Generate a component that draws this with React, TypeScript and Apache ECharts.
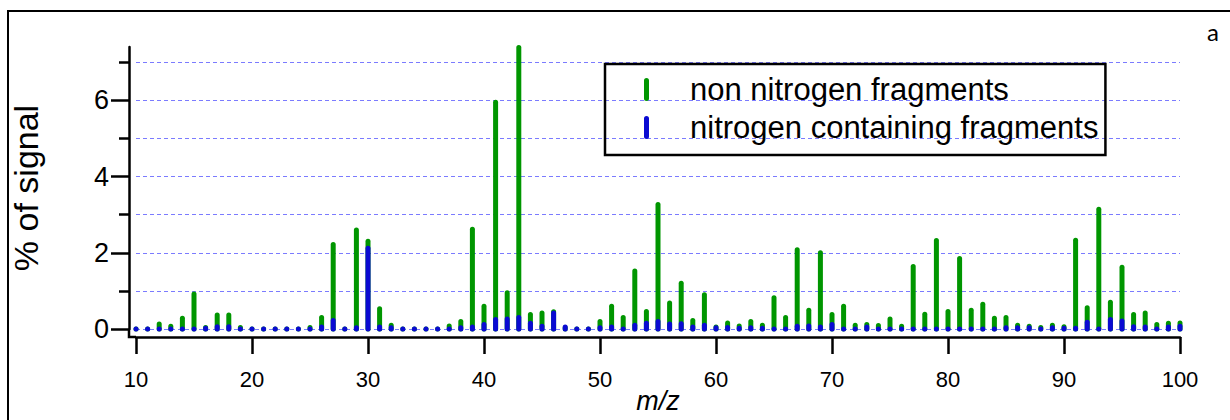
import React, { useEffect, useRef } from "react";
import * as echarts from "echarts";

const massToCharge = [
  10, 11, 12, 13, 14, 15, 16, 17, 18, 19,
  20, 21, 22, 23, 24, 25, 26, 27, 28, 29,
  30, 31, 32, 33, 34, 35, 36, 37, 38, 39,
  40, 41, 42, 43, 44, 45, 46, 47, 48, 49,
  50, 51, 52, 53, 54, 55, 56, 57, 58, 59,
  60, 61, 62, 63, 64, 65, 66, 67, 68, 69,
  70, 71, 72, 73, 74, 75, 76, 77, 78, 79,
  80, 81, 82, 83, 84, 85, 86, 87, 88, 89,
  90, 91, 92, 93, 94, 95, 96, 97, 98, 99,
  100,
];

const nonNitrogen = [
  0, 0, 0.13, 0.07, 0.28, 0.92, 0.04, 0.37, 0.37, 0.04,
  0, 0, 0, 0, 0, 0.04, 0.3, 2.22, 0, 2.6,
  2.3, 0.53, 0.1, 0, 0, 0, 0, 0.08, 0.2, 2.62,
  0.6, 5.95, 0.95, 7.39, 0.38, 0.42, 0.45, 0.03, 0, 0,
  0.2, 0.6, 0.3, 1.52, 0.46, 3.27, 0.68, 1.2, 0.22, 0.9,
  0.05, 0.16, 0.08, 0.2, 0.1, 0.82, 0.3, 2.08, 0.49, 2.0,
  0.38, 0.6, 0.1, 0.12, 0.09, 0.26, 0.07, 1.64, 0.39, 2.32,
  0.46, 1.85, 0.49, 0.65, 0.28, 0.3, 0.1, 0.07, 0.04, 0.1,
  0.06, 2.33, 0.56, 3.14, 0.7, 1.62, 0.38, 0.42, 0.12, 0.15,
  0.16,
];

const nitrogenContaining = [
  0, 0, 0, 0, 0, 0, 0.02, 0.06, 0.06, 0,
  0, 0, 0, 0, 0, 0, 0.05, 0.22, 0, 0.03,
  2.12, 0.05, 0.03, 0, 0, 0, 0, 0, 0.03, 0.05,
  0.12, 0.25, 0.26, 0.3, 0.15, 0.07, 0.42, 0.05, 0, 0,
  0.03, 0.05, 0, 0.1, 0.15, 0.2, 0.13, 0.14, 0.05, 0.1,
  0.03, 0.04, 0.02, 0.03, 0.02, 0, 0, 0.07, 0.08, 0.05,
  0.12, 0, 0, 0.05, 0, 0, 0, 0, 0, 0,
  0, 0, 0, 0, 0, 0.03, 0.03, 0.03, 0, 0.03,
  0.02, 0.02, 0.18, 0, 0.25, 0.21, 0.06, 0.05, 0, 0.05,
  0.07,
];

const yMajorTicks = [0, 2, 4, 6];
const seriesNames = ["non nitrogen fragments", "nitrogen containing fragments"];
const seriesColors = ["#009600", "#0a0ad2"];
const yAxisTitle = "% of signal";
const xAxisTitle = "m/z";
const panelLetter = "a";

const pillIcon =
  "path://M2.5,0 A2.5,2.5 0 0 1 5,2.5 L5,20.5 A2.5,2.5 0 0 1 0,20.5 L0,2.5 A2.5,2.5 0 0 1 2.5,0 Z";

export default function App() {
  const ref = useRef<HTMLDivElement>(null);

  useEffect(() => {
    const chart = echarts.init(ref.current!, null, { renderer: "svg" });

    const stem = (color: string) => (params: any, api: any) => {
      const x = api.value(0);
      const y = api.value(1);
      const a = api.coord([x, 0]);
      const b = api.coord([x, y]);
      return {
        type: "line",
        shape: { x1: a[0], y1: a[1], x2: b[0], y2: b[1] + 0.001 },
        style: { stroke: color, lineWidth: 5, lineCap: "round" },
      };
    };

    const font = "Liberation Sans, Arial, sans-serif";
    const axisColor = "#000";
    const gridDash = { color: "#7b7bff", width: 1, type: [4, 3] };

    chart.setOption({
      animation: false,
      backgroundColor: "#fff",
      grid: { left: 136, right: 50, top: 47, bottom: 91, outerBoundsMode: "none", containLabel: false },
      xAxis: {
        type: "value",
        min: 10,
        max: 100,
        interval: 10,
        offset: 8,
        name: xAxisTitle,
        nameLocation: "middle",
        nameGap: 50,
        nameMoveOverlap: false,
        nameTextStyle: { fontSize: 27, lineHeight: 28, fontStyle: "italic", color: "#000", fontFamily: font },
        axisLine: { show: true, onZero: false, lineStyle: { color: axisColor, width: 2.5 } },
        axisTick: { show: true, length: 17, lineStyle: { color: axisColor, width: 2.5 } },
        axisLabel: { margin: 31, fontSize: 22, color: "#000", fontFamily: font },
        splitLine: { show: false },
      },
      yAxis: {
        type: "value",
        min: 0,
        max: 7.4,
        interval: 2,
        offset: 7,
        name: yAxisTitle,
        nameLocation: "middle",
        nameGap: 86,
        nameMoveOverlap: false,
        nameTextStyle: { fontSize: 34, color: "#000", fontFamily: font },
        axisLine: { show: true, lineStyle: { color: axisColor, width: 2.5 } },
        axisTick: { show: true, length: 18, customValues: yMajorTicks, lineStyle: { color: axisColor, width: 2.5 } },
        minorTick: { show: true, splitNumber: 2, length: 10, lineStyle: { color: axisColor, width: 2.5 } },
        axisLabel: { margin: 20, fontSize: 27, color: "#000", fontFamily: font, customValues: yMajorTicks },
        splitLine: { show: true, lineStyle: gridDash },
        minorSplitLine: { show: true, lineStyle: gridDash },
      },
      legend: {
        orient: "vertical",
        left: 605,
        top: 64,
        data: [
          { name: seriesNames[0], icon: pillIcon },
          { name: seriesNames[1], icon: pillIcon },
        ],
        itemWidth: 5,
        itemHeight: 23,
        itemGap: 7,
        borderColor: "#000",
        borderWidth: 2.5,
        borderRadius: 0,
        padding: [10, 7, 12, 39],
        textStyle: { fontSize: 31, lineHeight: 31, color: "#000", fontFamily: font, padding: [0, 0, 0, 36] },
      },
      series: [
        {
          name: seriesNames[0],
          type: "custom",
          renderItem: stem(seriesColors[0]),
          itemStyle: { color: seriesColors[0] },
          encode: { x: 0, y: 1 },
          data: massToCharge.map((m, i) => [m, nonNitrogen[i]]),
          z: 2,
        },
        {
          name: seriesNames[1],
          type: "custom",
          renderItem: stem(seriesColors[1]),
          itemStyle: { color: seriesColors[1] },
          encode: { x: 0, y: 1 },
          data: massToCharge.map((m, i) => [m, nitrogenContaining[i]]),
          z: 3,
        },
      ],
    });

    const origin = chart.convertToPixel({ xAxisIndex: 0, yAxisIndex: 0 }, [10, 0]) as number[];
    const ax = origin[0] - 7;
    const ay = origin[1] + 8;
    chart.setOption({
      graphic: [
        {
          type: "rect",
          shape: { x: 8, y: 11, width: 1240, height: 440 },
          style: { fill: "none", stroke: "#000", lineWidth: 2 },
          silent: true,
        },
        {
          type: "polyline",
          shape: { points: [[ax, origin[1]], [ax, ay], [origin[0], ay]] },
          style: { fill: "none", stroke: "#000", lineWidth: 2.5 },
          silent: true,
        },
        {
          type: "text",
          x: 1213,
          y: 31,
          style: {
            text: panelLetter,
            fontSize: 24,
            fontFamily: "Lato, sans-serif",
            fill: "#000",
            align: "center",
            verticalAlign: "middle",
          },
        },
      ],
    });

    return () => chart.dispose();
  }, []);

  return (
    <div
      ref={ref}
      style={{ position: "absolute", left: 0, top: 0, width: 1230, height: 420, background: "#fff" }}
    />
  );
}
